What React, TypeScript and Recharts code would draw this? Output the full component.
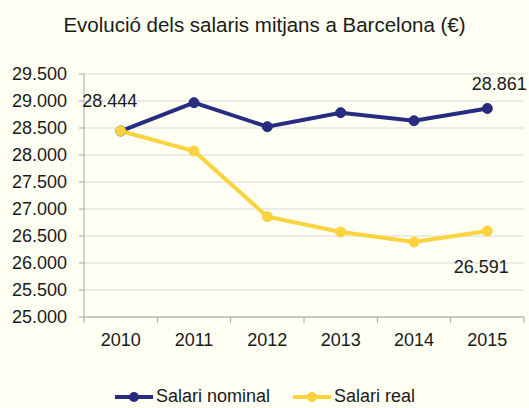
import { CartesianGrid, LabelList, Legend, Line, LineChart, XAxis, YAxis } from "recharts";

const years = ["2010", "2011", "2012", "2013", "2014", "2015"];
const nominal = [28444, 28969, 28524, 28784, 28635, 28861];
const real = [28444, 28074, 26858, 26574, 26389, 26591];
const yTicks = [25000, 25500, 26000, 26500, 27000, 27500, 28000, 28500, 29000, 29500];
const boundaryTicks = [0, 1, 2, 3, 4, 5, 6];

const NAVY = "#262c80";
const YELLOW = "#fad33e";
const BG = "#fffff3";
const FONT = "'Liberation Sans', Arial, sans-serif";

const data = years.map((year, i) => ({
  year,
  idx: i + 0.5,
  nominal: nominal[i],
  real: real[i],
}));

// 28444 -> "28.444"
const fmt = (v: number) => String(Math.round(v)).replace(/\B(?=(\d{3})+(?!\d))/g, ".");

function makeLabel(offsets: Record<number, [number, number]>) {
  return (props: any) => {
    const { x, y, value, index } = props;
    const off = offsets[index];
    if (!off) return null;
    return (
      <text
        x={x + off[0]}
        y={y + off[1]}
        textAnchor="middle"
        dominantBaseline="central"
        fontSize={18}
        fontFamily={FONT}
        fill="#1a1a1a"
      >
        {fmt(value)}
      </text>
    );
  };
}

function LegendContent() {
  const items = [
    { label: "Salari nominal", color: NAVY },
    { label: "Salari real", color: YELLOW },
  ];
  return (
    <div style={{ display: "flex", justifyContent: "center", gap: 22, fontFamily: FONT, fontSize: 18, color: "#1a1a1a" }}>
      {items.map((it) => (
        <div key={it.label} style={{ display: "flex", alignItems: "center" }}>
          <svg width={40} height={12} style={{ marginRight: 2 }}>
            <line x1={1} y1={6} x2={39} y2={6} stroke={it.color} strokeWidth={4} />
            <circle cx={20} cy={6} r={5} fill={it.color} />
          </svg>
          <span>{it.label}</span>
        </div>
      ))}
    </div>
  );
}

export default function App() {
  document.body.style.margin = "0";
  return (
    <div style={{ position: "relative", width: 529, height: 408, background: BG, fontFamily: FONT }}>
      <div
        style={{
          position: "absolute",
          top: 12,
          left: 0,
          width: 529,
          textAlign: "center",
          fontSize: 20.5,
          color: "#1a1a1a",
          lineHeight: "26px",
        }}
      >
        Evolució dels salaris mitjans a Barcelona (€)
      </div>
      <LineChart width={529} height={408} data={data} margin={{ top: 74, right: 5, bottom: 50, left: 0 }}>
        <CartesianGrid xAxisId="cat" vertical={false} stroke="#d9d9d9" />
        <XAxis
          xAxisId="bounds"
          type="number"
          dataKey="idx"
          domain={[0, 6]}
          ticks={boundaryTicks}
          height={1}
          tickSize={6}
          tickFormatter={() => ""}
          stroke="#a6a6a6"
        />
        <XAxis
          xAxisId="cat"
          dataKey="year"
          scale="band"
          height={40}
          axisLine={false}
          tickLine={false}
          tickSize={6}
          tickMargin={9}
          tick={{ fontSize: 18, fill: "#1a1a1a", fontFamily: FONT }}
        />
        <YAxis
          width={84}
          domain={[25000, 29500]}
          ticks={yTicks}
          tickFormatter={fmt}
          tickSize={5}
          tickMargin={12}
          stroke="#a6a6a6"
          tick={{ fontSize: 18, fill: "#1a1a1a", fontFamily: FONT }}
        />
        <Legend
          layout="horizontal"
          verticalAlign="middle"
          align="center"
          wrapperStyle={{ top: 386, left: 0, width: 529 }}
          content={<LegendContent />}
        />
        <Line
          xAxisId="cat"
          dataKey="nominal"
          stroke={NAVY}
          strokeWidth={4}
          dot={{ r: 5, fill: NAVY, stroke: NAVY, strokeWidth: 1 }}
          activeDot={false}
          isAnimationActive={false}
        >
          <LabelList content={makeLabel({ 0: [-11, -30], 5: [12, -25] })} />
        </Line>
        <Line
          xAxisId="cat"
          dataKey="real"
          stroke={YELLOW}
          strokeWidth={4}
          dot={{ r: 5, fill: YELLOW, stroke: YELLOW, strokeWidth: 1 }}
          activeDot={false}
          isAnimationActive={false}
        >
          <LabelList content={makeLabel({ 5: [-6, 36] })} />
        </Line>
      </LineChart>
    </div>
  );
}
